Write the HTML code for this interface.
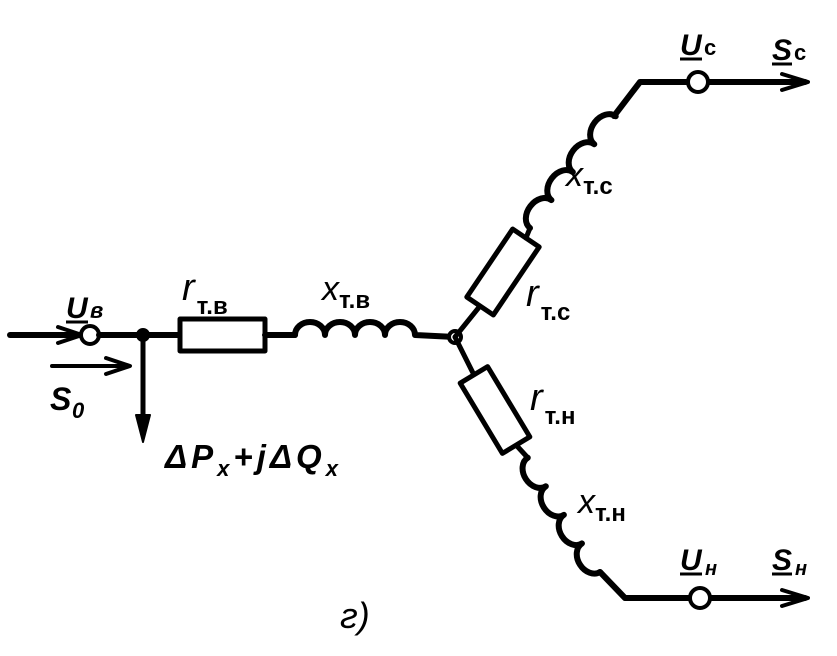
<!DOCTYPE html>
<html><head><meta charset="utf-8"><style>
html,body{margin:0;padding:0;background:#fff}
svg text{font-family:"Liberation Sans",sans-serif;fill:#000}
</style></head><body>
<svg width="837" height="651" viewBox="0 0 837 651" xmlns="http://www.w3.org/2000/svg">
<g stroke="#000" stroke-width="6" fill="none" stroke-linecap="round" stroke-linejoin="round">
<line x1="10" y1="335" x2="80" y2="335"/>
<path d="M58 327 L82 335 L58 343" stroke-width="4"/>
<circle cx="90" cy="335" r="9" stroke-width="4" fill="#fff"/>
<line x1="99" y1="335" x2="180" y2="335"/>
<circle cx="143" cy="335" r="6" fill="#000" stroke-width="2"/>
<line x1="143" y1="335" x2="143" y2="425" stroke-width="5"/>
<path d="M136 415 L143 442 L150 415 Z" fill="#000" stroke-width="2"/>
<line x1="52" y1="366" x2="128" y2="366" stroke-width="4"/>
<path d="M106 358 L130 366 L106 374" stroke-width="4"/>
<rect x="180" y="319" width="85" height="32" stroke-width="5" fill="#fff"/>
<line x1="265" y1="335" x2="295" y2="335"/>
<path d="M295 335 a15 13 0 0 1 30 0 a15 13 0 0 1 30 0 a15 13 0 0 1 30 0 a15 13 0 0 1 30 0 L455 337"/>
<circle cx="455" cy="337" r="6" stroke-width="4" fill="#fff"/>
<line x1="455" y1="337" x2="480" y2="306" stroke-width="5"/>
<g transform="translate(503,272) rotate(-56)">
<rect x="-41" y="-16" width="82" height="32" stroke-width="5" fill="#fff"/>
</g>
<line x1="526" y1="238" x2="530" y2="228" stroke-width="5"/>
<g transform="translate(530,228) rotate(-52.5)">
<path d="M0 0 a17.6 13 0 0 1 35.2 0 a17.6 13 0 0 1 35.2 0 a17.6 13 0 0 1 35.2 0 a17.6 13 0 0 1 35.2 0"/>
</g>
<polyline points="614,116 640,82 805,82"/>
<path d="M782 74 L808 82 L782 90" stroke-width="4"/>
<circle cx="698" cy="82" r="10" stroke-width="4" fill="#fff"/>
<line x1="455" y1="337" x2="474" y2="375" stroke-width="5"/>
<g transform="translate(495,410) rotate(59)">
<rect x="-41" y="-16" width="82" height="32" stroke-width="5" fill="#fff"/>
</g>
<line x1="517" y1="446" x2="528" y2="458" stroke-width="5"/>
<g transform="translate(600,572) rotate(237.7)">
<path d="M0 0 a16.9 13 0 0 1 33.8 0 a16.9 13 0 0 1 33.8 0 a16.9 13 0 0 1 33.8 0 a16.9 13 0 0 1 33.8 0"/>
</g>
<polyline points="600,572 625,598 805,598"/>
<path d="M782 590 L808 598 L782 606" stroke-width="4"/>
<circle cx="700" cy="598" r="10" stroke-width="4" fill="#fff"/>
</g>
<g font-style="italic" font-weight="bold">
<text x="66" y="318" font-size="30">U</text><line x1="66" y1="322" x2="88" y2="322" stroke="#000" stroke-width="3"/>
<text x="90" y="318" font-size="22">в</text>
<text x="50" y="410" font-size="32">S</text><text x="72" y="418" font-size="22">0</text>
<text x="182" y="300" font-size="38" font-weight="normal">r<tspan dx="2" dy="14" font-size="24" font-style="normal" font-weight="bold">т.в</tspan></text>
<text x="322" y="300" font-size="34" font-weight="normal">x<tspan dx="0" dy="8" font-size="24" font-style="normal" font-weight="bold">т.в</tspan></text>
<text x="165" y="468" font-size="33" letter-spacing="4">ΔP<tspan dy="8" font-size="22">x</tspan><tspan dy="-8">+jΔQ</tspan><tspan dy="8" font-size="22">x</tspan></text>
<text x="680" y="55" font-size="30">U</text><line x1="680" y1="59" x2="702" y2="59" stroke="#000" stroke-width="3"/>
<text x="704" y="55" font-size="22" font-style="normal">c</text>
<text x="772" y="60" font-size="30">S</text><line x1="772" y1="64" x2="792" y2="64" stroke="#000" stroke-width="3"/>
<text x="794" y="60" font-size="22" font-style="normal">c</text>
<text x="566" y="186" font-size="34" font-weight="normal">x<tspan dy="8" font-size="24" font-style="normal" font-weight="bold">т.c</tspan></text>
<text x="526" y="306" font-size="38" font-weight="normal">r<tspan dx="2" dy="14" font-size="24" font-style="normal" font-weight="bold">т.c</tspan></text>
<text x="530" y="410" font-size="38" font-weight="normal">r<tspan dx="2" dy="14" font-size="24" font-style="normal" font-weight="bold">т.н</tspan></text>
<text x="578" y="513" font-size="34" font-weight="normal">x<tspan dy="8" font-size="24" font-style="normal" font-weight="bold">т.н</tspan></text>
<text x="680" y="570" font-size="30">U</text><line x1="680" y1="574" x2="702" y2="574" stroke="#000" stroke-width="3"/>
<text x="705" y="575" font-size="20">н</text>
<text x="772" y="570" font-size="30">S</text><line x1="772" y1="574" x2="792" y2="574" stroke="#000" stroke-width="3"/>
<text x="795" y="575" font-size="20">н</text>
<text x="340" y="628" font-size="36" font-weight="normal">г)</text>
</g>
</svg>
</body></html>
